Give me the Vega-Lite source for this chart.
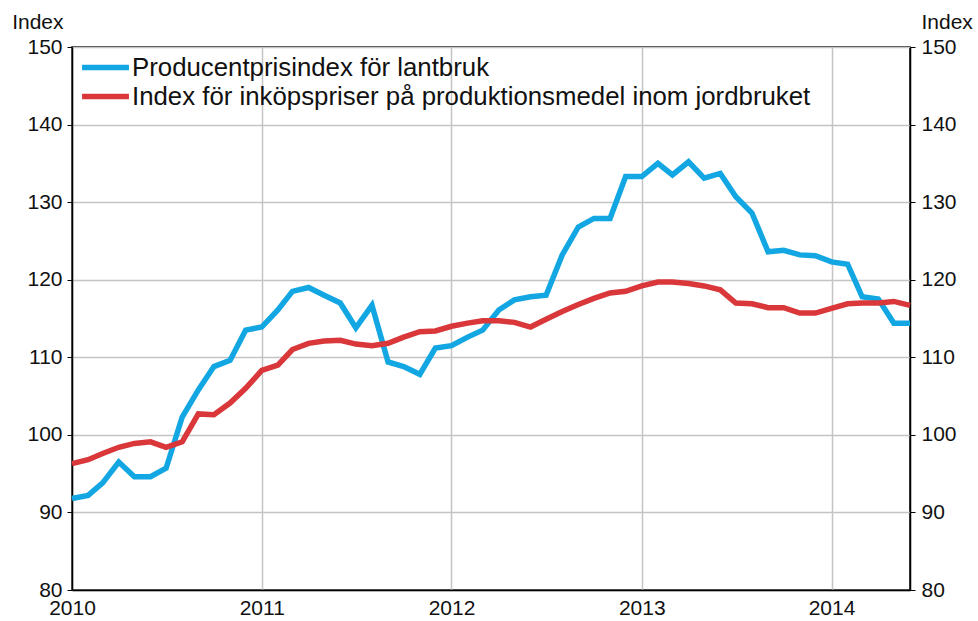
{
  "$schema": "https://vega.github.io/schema/vega-lite/v6.json",
  "width": 838,
  "height": 543,
  "autosize": "none",
  "padding": {"left": 72, "top": 47, "right": 68, "bottom": 31},
  "background": "white",
  "config": {
    "font": "Liberation Sans",
    "view": {"stroke": "#000", "strokeWidth": 1.5},
    "axis": {
      "labelFont": "Liberation Sans",
      "titleFont": "Liberation Sans",
      "labelFontSize": 21,
      "titleFontSize": 21,
      "labelColor": "#111",
      "titleColor": "#111",
      "titleFontWeight": "normal",
      "domainColor": "#000",
      "domainWidth": 1.5,
      "tickColor": "#000",
      "gridColor": "#c4c4c4",
      "gridWidth": 1.5
    },
    "legend": {
      "labelFont": "Liberation Sans",
      "labelFontSize": 25.8,
      "labelColor": "#111"
    }
  },
  "data": {
    "values": [
      {"date": "2010-01-01", "p": 91.8, "i": 96.3},
      {"date": "2010-02-01", "p": 92.2, "i": 96.8},
      {"date": "2010-03-01", "p": 93.8, "i": 97.6},
      {"date": "2010-04-01", "p": 96.5, "i": 98.4},
      {"date": "2010-05-01", "p": 94.6, "i": 98.9},
      {"date": "2010-06-01", "p": 94.6, "i": 99.1},
      {"date": "2010-07-01", "p": 95.7, "i": 98.4},
      {"date": "2010-08-01", "p": 102.3, "i": 99.1},
      {"date": "2010-09-01", "p": 105.8, "i": 102.7},
      {"date": "2010-10-01", "p": 108.8, "i": 102.6},
      {"date": "2010-11-01", "p": 109.6, "i": 104.1},
      {"date": "2010-12-01", "p": 113.5, "i": 106.0},
      {"date": "2011-01-01", "p": 113.9, "i": 108.3},
      {"date": "2011-02-01", "p": 116.1, "i": 109.0},
      {"date": "2011-03-01", "p": 118.5, "i": 111.0},
      {"date": "2011-04-01", "p": 119.0, "i": 111.8},
      {"date": "2011-05-01", "p": 118.0, "i": 112.1},
      {"date": "2011-06-01", "p": 117.0, "i": 112.2},
      {"date": "2011-07-01", "p": 113.8, "i": 111.7},
      {"date": "2011-08-01", "p": 116.7, "i": 111.5},
      {"date": "2011-09-01", "p": 109.4, "i": 111.8},
      {"date": "2011-10-01", "p": 108.8, "i": 112.6},
      {"date": "2011-11-01", "p": 107.8, "i": 113.3},
      {"date": "2011-12-01", "p": 111.2, "i": 113.4},
      {"date": "2012-01-01", "p": 111.5, "i": 114.0},
      {"date": "2012-02-01", "p": 112.6, "i": 114.4},
      {"date": "2012-03-01", "p": 113.5, "i": 114.7},
      {"date": "2012-04-01", "p": 116.1, "i": 114.7},
      {"date": "2012-05-01", "p": 117.4, "i": 114.5},
      {"date": "2012-06-01", "p": 117.8, "i": 113.9},
      {"date": "2012-07-01", "p": 118.0, "i": 114.9},
      {"date": "2012-08-01", "p": 123.2, "i": 115.9},
      {"date": "2012-09-01", "p": 126.8, "i": 116.8},
      {"date": "2012-10-01", "p": 127.9, "i": 117.6},
      {"date": "2012-11-01", "p": 127.9, "i": 118.3},
      {"date": "2012-12-01", "p": 133.3, "i": 118.5},
      {"date": "2013-01-01", "p": 133.3, "i": 119.2},
      {"date": "2013-02-01", "p": 135.0, "i": 119.7},
      {"date": "2013-03-01", "p": 133.5, "i": 119.7},
      {"date": "2013-04-01", "p": 135.2, "i": 119.5},
      {"date": "2013-05-01", "p": 133.1, "i": 119.2},
      {"date": "2013-06-01", "p": 133.7, "i": 118.7},
      {"date": "2013-07-01", "p": 130.7, "i": 117.0},
      {"date": "2013-08-01", "p": 128.6, "i": 116.9},
      {"date": "2013-09-01", "p": 123.6, "i": 116.4},
      {"date": "2013-10-01", "p": 123.8, "i": 116.4},
      {"date": "2013-11-01", "p": 123.2, "i": 115.7},
      {"date": "2013-12-01", "p": 123.1, "i": 115.7},
      {"date": "2014-01-01", "p": 122.3, "i": 116.3},
      {"date": "2014-02-01", "p": 122.0, "i": 116.9},
      {"date": "2014-03-01", "p": 117.8, "i": 117.0},
      {"date": "2014-04-01", "p": 117.5, "i": 117.0},
      {"date": "2014-05-01", "p": 114.4, "i": 117.2},
      {"date": "2014-06-01", "p": 114.4, "i": 116.7}
    ]
  },
  "transform": [
    {"fold": ["p", "i"], "as": ["key", "value"]},
    {"lookup": "key", "from": {"data": {"values": [
      {"key": "p", "series": "Producentprisindex för lantbruk"},
      {"key": "i", "series": "Index för inköpspriser på produktionsmedel inom jordbruket"}
    ]}, "key": "key", "fields": ["series"]}}
  ],
  "layer": [
    {
      "mark": {"type": "line", "strokeWidth": 5.5, "strokeJoin": "miter", "strokeCap": "butt"},
      "encoding": {
        "x": {
          "field": "date", "type": "temporal",
          "scale": {"type": "utc", "domain": [{"year": 2010, "month": 1, "date": 1, "utc": true}, {"year": 2014, "month": 6, "date": 1, "utc": true}]},
          "axis": {
            "title": null, "format": "%Y", "grid": true, "ticks": false, "labelPadding": 7,
            "labelFlush": false, "labelOverlap": false,
            "values": [
              {"year": 2010, "month": 1, "date": 1, "utc": true},
              {"year": 2011, "month": 1, "date": 1, "utc": true},
              {"year": 2012, "month": 1, "date": 1, "utc": true},
              {"year": 2013, "month": 1, "date": 1, "utc": true},
              {"year": 2014, "month": 1, "date": 1, "utc": true}
            ]
          }
        },
        "y": {
          "field": "value", "type": "quantitative",
          "scale": {"domain": [80, 150], "nice": false, "zero": false},
          "axis": {
            "orient": "left", "title": "Index", "titleAngle": 0, "titleAlign": "right",
            "titleBaseline": "alphabetic", "titleX": -9, "titleY": -19,
            "values": [80, 90, 100, 110, 120, 130, 140, 150],
            "tickSize": 5, "labelPadding": 5, "grid": true
          }
        },
        "color": {
          "field": "series", "type": "nominal",
          "scale": {
            "domain": ["Producentprisindex för lantbruk", "Index för inköpspriser på produktionsmedel inom jordbruket"],
            "range": ["#12a6e2", "#d9373a"]
          },
          "legend": {
            "title": null, "orient": "none", "legendX": 19, "legendY": 6,
            "symbolType": "M-2,0H2", "symbolSize": 550, "symbolStrokeWidth": 5.5,
            "symbolFillColor": "transparent",
            "rowPadding": 1, "labelOffset": 12, "padding": 0, "labelLimit": 0
          }
        }
      }
    },
    {
      "mark": {"type": "line", "strokeOpacity": 0},
      "encoding": {
        "x": {"field": "date", "type": "temporal"},
        "y": {
          "field": "value", "type": "quantitative",
          "axis": {
            "orient": "right", "title": "Index", "titleAngle": 0, "titleAlign": "left",
            "titleBaseline": "alphabetic", "titleX": 11, "titleY": -19,
            "values": [80, 90, 100, 110, 120, 130, 140, 150],
            "tickSize": 5, "labelPadding": 6, "grid": false
          }
        },
        "detail": {"field": "key"}
      }
    }
  ],
  "resolve": {"axis": {"y": "independent"}}
}
